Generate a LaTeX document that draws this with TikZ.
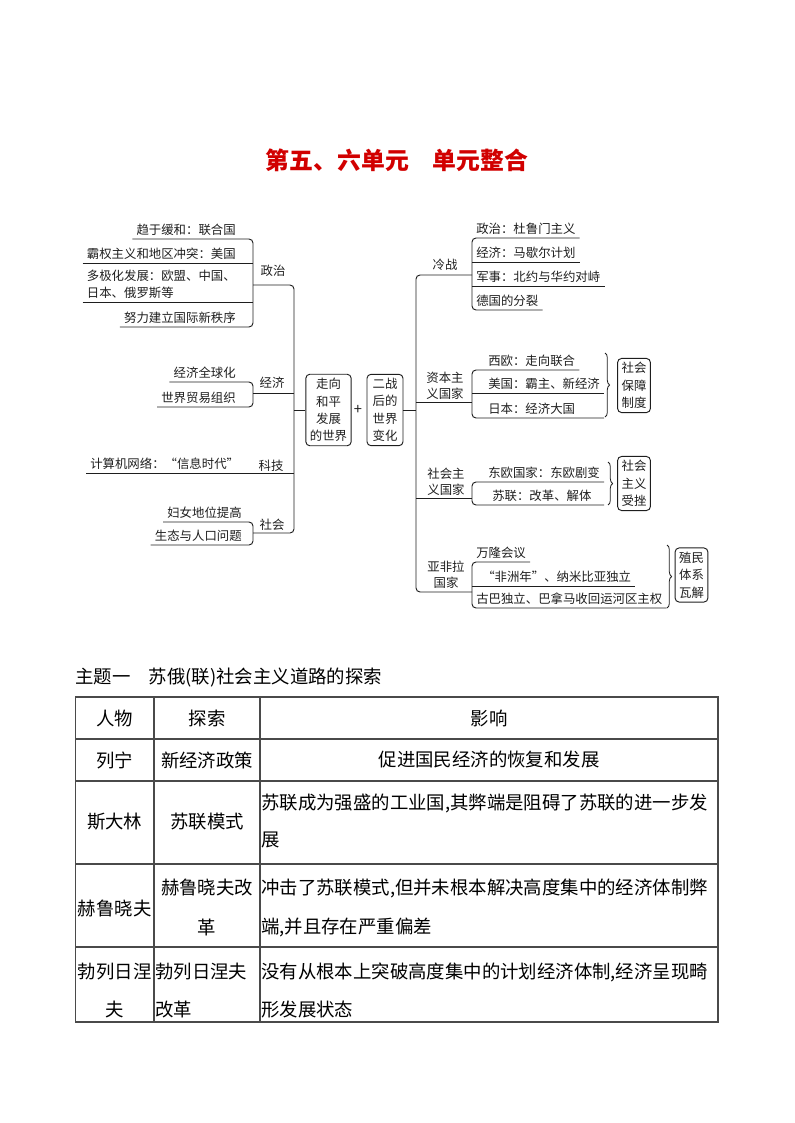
\documentclass[tikz,border=0pt]{standalone}
\usepackage{fontspec}
\usepackage{tikz}
\usetikzlibrary{positioning, calc, decorations.pathreplacing}
\newfontfamily\cjk{Noto Sans CJK SC}
\definecolor{ink}{HTML}{1E1E1E}
\definecolor{heading}{HTML}{D10000}
\definecolor{rulegray}{HTML}{4A4A4A}
\tikzset{
  leaf/.style={inner xsep=3pt, inner ysep=2.5pt, text=ink, align=left,
               font=\cjk\fontsize{9.3}{12.8}\selectfont},
  hub/.style={inner sep=1pt, text=ink, align=center,
              font=\cjk\fontsize{9.3}{12}\selectfont},
  tag/.style={draw=ink, line width=0.7pt, rounded corners=3pt, align=center,
              inner xsep=3pt, inner ysep=3pt, text=ink,
              font=\cjk\fontsize{9.3}{13}\selectfont},
  link/.style={draw=ink, line width=0.7pt, rounded corners=3pt},
  brc/.style={draw=ink, line width=0.6pt, decorate,
              decoration={brace, amplitude=3.5pt}},
  cell/.style={inner sep=0pt, text=black, font=\cjk\fontsize{13.8}{16}\selectfont},
  tabline/.style={draw=rulegray, line width=0.8pt},
}

\begin{document}
\begin{tikzpicture}[x=0.75pt, y=-0.75pt]
  \useasboundingbox (0,0) rectangle (794,1123);
  % title
  \node[font=\cjk\bfseries\fontsize{17.9}{20}\selectfont, text=heading] (ttl) at (397,160) {第五、六单元　单元整合};

  % left half: politics
  \coordinate (pb) at (253,285);
  \coordinate (ltop) at (294,285);
  \coordinate (lbot) at (294,533);
  \node[leaf, anchor=south east] (p1) at (240,239) {趋于缓和：联合国};
  \node[leaf, anchor=south east] (p2) at (240,263) {霸权主义和地区冲突：美国};
  \node[leaf, anchor=south east] (p3) at (240,302) {多极化发展：欧盟、中国、\\日本、俄罗斯等};
  \node[leaf, anchor=south east] (p4) at (240,327) {努力建立国际新秩序};
  \node[hub] (zz) at (273,271) {政治};
  \draw[link] (p1.south west) -- (p1.south -| pb) -- (p4.south -| pb) -- (p4.south west);
  \draw[link] (p2.south west) -- (p2.south -| pb);
  \draw[link] (p3.south west) -- (p3.south -| pb);
  % economy
  \coordinate (eb) at (253,393);
  \node[leaf, anchor=south east] (e1) at (240,382) {经济全球化};
  \node[leaf, anchor=south east] (e2) at (240,407) {世界贸易组织};
  \node[hub] (jj) at (272,383) {经济};
  \draw[link] (e1.south west) -- (e1.south -| eb) -- (e2.south -| eb) -- (e2.south west);
  \draw[link] (eb) -- (eb -| ltop);
  % technology
  \node[leaf, anchor=south west] (k1) at (86,473) {计算机网络：“信息时代”};
  \node[hub] (kj) at (271,466) {科技};
  \draw[link] (k1.south west) -- (k1.south -| ltop);
  % society
  \coordinate (sb) at (253,533);
  \node[leaf, anchor=south east] (s1) at (246,522) {妇女地位提高};
  \node[leaf, anchor=south east] (s2) at (246,545) {生态与人口问题};
  \node[hub] (sh) at (272,525) {社会};
  \draw[link] (s1.south west) -- (s1.south -| sb) -- (s2.south -| sb) -- (s2.south west);
  \draw[link] (pb) -- (ltop) -- (lbot) -- (sb);

  % centre
  \node[tag, minimum width=34pt] (b1) at (328.5,410) {走向\\和平\\发展\\的世界};
  \node[font=\cjk\fontsize{11}{11}\selectfont, text=ink] (pl) at (358,410) {+};
  \node[tag, minimum width=27pt] (b2) at (385,410) {二战\\后的\\世界\\变化};
  \draw[link] (b1.west -| ltop) -- (b1.west);

  % right half: trunk
  \coordinate (rtop) at (416,275);
  \coordinate (rbot) at (416,592);
  \coordinate (cb) at (472,275);
  \coordinate (zb) at (472,402);
  \coordinate (sbr) at (472,498);
  \coordinate (ab) at (472,592);
  \draw[link] (cb) -- (rtop) -- (rbot) -- (ab);
  \draw[link] (zb -| rtop) -- (zb);
  \draw[link] (sbr -| rtop) -- (sbr);
  \draw[link] (b2.east) -- (b2.east -| rtop);
  % cold war
  \node[hub] (lz) at (445,265) {冷战};
  \node[leaf, anchor=south west] (c1) at (472,238) {政治：杜鲁门主义};
  \node[leaf, anchor=south west] (c2) at (472,262) {经济：马歇尔计划};
  \node[leaf, anchor=south west] (c3) at (472,286) {军事：北约与华约对峙};
  \node[leaf, anchor=south west] (c4) at (472,310) {德国的分裂};
  \draw[link] (c1.south east) -- (c1.south west) -- (c4.south west) -- (c4.south east);
  \draw[link] (c2.south west) -- (c2.south east);
  \draw[link] (c3.south west) -- (c3.south east);
  % capitalist countries
  \node[hub] (zbzy) at (445,386) {资本主\\义国家};
  \node[leaf, anchor=south west] (w1) at (484,370) {西欧：走向联合};
  \node[leaf, anchor=south west] (w2) at (484,393) {美国：霸主、新经济};
  \node[leaf, anchor=south west] (w3) at (484,418) {日本：经济大国};
  \draw[link] (w1.south east) -- (w1.south -| zb) -- (w3.south -| zb) -- (w3.south -| w2.east);
  \draw[link] (w2.south -| zb) -- (w2.south east);
  \draw[brc] (605,353) -- (605,417);
  \node[tag] (bz) at (634,385.5) {社会\\保障\\制度};
  % socialist countries
  \node[hub] (shzy) at (446,482) {社会主\\义国家};
  \node[leaf, anchor=south west] (u1) at (484,482) {东欧国家：东欧剧变};
  \node[leaf, anchor=south west] (u2) at (488,505) {苏联：改革、解体};
  \draw[link] (u1.south east) -- (u1.south -| sbr) -- (u2.south -| sbr) -- (u2.south -| u1.east);
  \draw[brc] (608,462) -- (608,505);
  \node[tag] (cz) at (634,483.5) {社会\\主义\\受挫};
  % asia, africa, latin america
  \node[hub] (yfl) at (446,575) {亚非拉\\国家};
  \node[leaf, anchor=south west] (a1) at (472,562) {万隆会议};
  \node[leaf, anchor=south west] (a2) at (478,586) {“非洲年”、纳米比亚独立};
  \node[leaf, anchor=south west] (a3) at (472,608) {古巴独立、巴拿马收回运河区主权};
  \draw[link] (a1.south east) -- (a1.south west) -- (a3.south west) -- (a3.south east);
  \draw[link] (a2.south -| a1.west) -- (a2.south east);
  \draw[brc] (667,545) -- (667,608);
  \node[tag] (wj) at (691.5,575) {殖民\\体系\\瓦解};

  % table
  \node[cell, anchor=west] (th) at (75,678) {主题一　苏俄(联)社会主义道路的探索};
  \draw[tabline] (75.5,697) rectangle (718,1022);
  \foreach \y in {739,781,864,947} \draw[tabline] (75.5,\y) -- (718,\y);
  \foreach \x in {154,260} \draw[tabline] (\x,697) -- (\x,1022);
  \node[cell] (h1) at (114.75,718) {人物};
  \node[cell] (h2) at (207,718) {探索};
  \node[cell] (h3) at (489,718) {影响};
  \node[cell] (r1a) at (114.75,760) {列宁};
  \node[cell] (r1b) at (207,760) {新经济政策};
  \node[cell] (r1c) at (489,760) {促进国民经济的恢复和发展};
  \node[cell] (r2a) at (114.75,822) {斯大林};
  \node[cell] (r2b) at (207,822) {苏联模式};
  \node[cell, anchor=west] (r2c) at (261,803) {苏联成为强盛的工业国,其弊端是阻碍了苏联的进一步发};
  \node[cell, anchor=west] (r2d) at (261,840) {展};
  \node[cell] (r3a) at (114.75,908) {赫鲁晓夫};
  \node[cell] (r3b) at (207,888) {赫鲁晓夫改};
  \node[cell] (r3c) at (207,927) {革};
  \node[cell, anchor=west] (r3d) at (261,888) {冲击了苏联模式,但并未根本解决高度集中的经济体制弊};
  \node[cell, anchor=west] (r3e) at (261,927) {端,并且存在严重偏差};
  \node[cell] (r4a) at (114.75,972) {勃列日涅};
  \node[cell] (r4b) at (114.75,1010) {夫};
  \node[cell, anchor=west] (r4c) at (155,972) {勃列日涅夫};
  \node[cell, anchor=west] (r4d) at (155,1010) {改革};
  \node[cell, anchor=west] (r4e) at (261,972) {没有从根本上突破高度集中的计划经济体制,经济呈现畸};
  \node[cell, anchor=west] (r4f) at (261,1010) {形发展状态};
\end{tikzpicture}
\end{document}
